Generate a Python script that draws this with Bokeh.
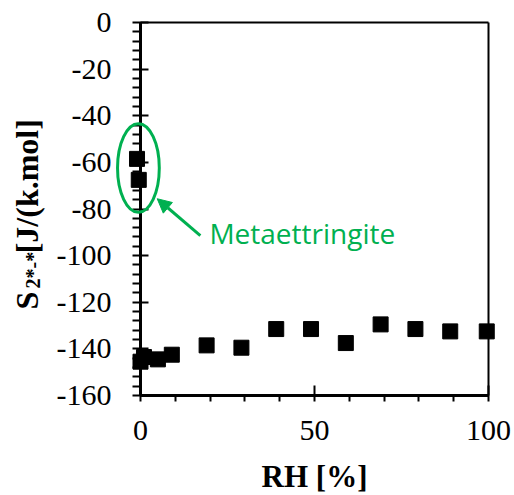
import math
from bokeh.plotting import figure
from bokeh.models import (Range1d, FixedTicker, Label, Arrow, NormalHead, ColumnDataSource)
from bokeh.embed import file_html
from bokeh.resources import INLINE

# data
rh = [-1, -0.5, 0, 1, 5, 9, 19, 29, 39, 49, 59, 69, 79, 89, 99.5]
s_val = [-58.5, -67.5, -145.5, -143.5, -144.5, -142.5, -138.5, -139.5,
         -131.5, -131.5, -137.5, -129.5, -131.5, -132.5, -132.5]
x_ticks = [0, 50, 100]
x_minor = [10, 20, 30, 40, 60, 70, 80, 90]
y_ticks = [0, -20, -40, -60, -80, -100, -120, -140, -160]
y_minor = [v for v in range(-160, 1, 4) if v % 20 != 0]
x_title = "RH [%]"
y_title = ["S", "2*-*", " [J/(k.mol]"]
note = "Metaettringite"

GREEN = "#00B050"
SERIF = "Liberation Serif"

# axes box: x 0..100 spans 140..488 px, y 0..-160 spans 22..395 px
XS = 348 / 100.0
YS = 373 / 160.0
W, H = 514, 495
B = 2
x_range = Range1d((B - 140) / XS, (W - B - 140) / XS)
y_range = Range1d(-(H - B - 22) / YS, (22 - B) / YS)

p = figure(frame_width=W - 2 * B, frame_height=H - 2 * B, output_backend="svg",
           toolbar_location=None, x_range=x_range, y_range=y_range,
           min_border_left=B, min_border_right=B, min_border_top=B,
           min_border_bottom=B)
p.grid.visible = False
p.outline_line_color = None
p.background_fill_color = "white"
p.border_fill_color = "white"

for ax, maj, mnr in ((p.xaxis[0], x_ticks, x_minor), (p.yaxis[0], y_ticks, y_minor)):
    ax.ticker = FixedTicker(ticks=maj, minor_ticks=mnr)
    ax.major_label_overrides = {t: str(t) for t in maj}
    ax.axis_line_width = 3
    ax.major_tick_line_width = 2
    ax.minor_tick_line_width = 2
    ax.major_label_text_font = SERIF
    ax.major_label_text_font_size = "30px"
    ax.major_label_text_color = "black"
    ax.axis_label = None

p.xaxis.fixed_location = -160
p.xaxis.bounds = (0, 100)
p.xaxis.major_tick_in = 10
p.xaxis.major_tick_out = 6
p.xaxis.minor_tick_in = 0
p.xaxis.minor_tick_out = 6
p.xaxis.major_label_standoff = 19

p.yaxis.fixed_location = 0
p.yaxis.bounds = (-160, 0)
p.yaxis.major_tick_in = 8
p.yaxis.major_tick_out = 8
p.yaxis.minor_tick_in = 0
p.yaxis.minor_tick_out = 8
p.yaxis.major_label_standoff = 21

# top and right frame lines
p.segment(x0=[0, 100], y0=[0, -160], x1=[100, 100], y1=[0, 0],
          line_color="black", line_width=2)

src = ColumnDataSource(dict(x=rh, y=s_val))
p.scatter("x", "y", source=src, marker="square", size=15,
          fill_color="black", line_color="black", level="overlay")

# metaettringite annotation
p.ellipse(x=-0.6, y=-62.4, width=12, height=38, fill_color=None,
          line_color=GREEN, line_width=3, level="overlay")
p.add_layout(Arrow(end=NormalHead(size=14, fill_color=GREEN, line_color=GREEN),
                   x_start=17.2, y_start=-91.4, x_end=4.8, y_end=-75.6,
                   line_color=GREEN, line_width=3))
p.add_layout(Label(x=19.8, y=-90.5, text=note, text_align="left",
                   text_baseline="middle", text_font="Open Sans",
                   text_font_size="28px", text_color=GREEN))

# x axis title
p.add_layout(Label(x=50, y=-194.7, text=x_title, text_align="center",
                   text_baseline="alphabetic", text_font=SERIF, text_font_style="bold",
                   text_font_size="31px", text_color="black"))

# y axis title built from pieces (with subscript)
ang = math.pi / 2
pieces = [(y_title[0], -32.5, -123.1, "32px"),
          (y_title[1], -31.0, -114.1, "20px"),
          (y_title[2], -32.5, -99.0, "32px")]
for txt, lx, ly, fs in pieces:
    p.add_layout(Label(x=lx, y=ly, text=txt, angle=ang, text_align="left",
                       text_baseline="alphabetic", text_font=SERIF,
                       text_font_style="bold", text_font_size=fs,
                       text_color="black"))

open("out.html", "w").write(file_html(p, INLINE))
